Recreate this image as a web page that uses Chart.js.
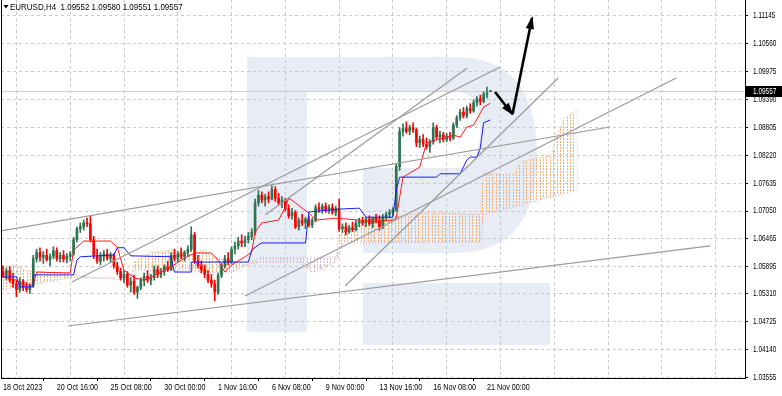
<!DOCTYPE html>
<html><head><meta charset="utf-8">
<script src="https://cdn.jsdelivr.net/npm/chart.js@4.4.1/dist/chart.umd.min.js"></script>
<style>html,body{margin:0;padding:0;background:#fff;overflow:hidden}canvas{display:block}</style>
</head><body>
<canvas id="c" width="782" height="396"></canvas>
<script>
// ---------- data (bar index 0 = 18 Oct 2023 00:00, H4 bars) ----------
const SYMBOL = 'EURUSD,H4';
const LAST_BAR = [1.09552, 1.09580, 1.09551, 1.09557];
const X_LABELS = ['18 Oct 2023','20 Oct 16:00','25 Oct 08:00','30 Oct 00:00','1 Nov 16:00','6 Nov 08:00','9 Nov 00:00','13 Nov 16:00','16 Nov 08:00','21 Nov 00:00'];
const Y_TICKS = [1.11145,1.10560,1.09975,1.09390,1.08805,1.08220,1.07635,1.07050,1.06465,1.05895,1.05310,1.04725,1.04140,1.03555];

const OPEN = [1.0578,1.0570,1.0580,1.0560,1.0552,1.0540, 1.0558,1.0545,1.0540,1.0548,1.0605,1.0618, 1.0608,1.0612,1.0603,1.0610,1.0622,1.0605, 1.0612,1.0604,1.0610,1.0615,1.0645,1.0668, 1.0672,1.0680,1.0678,1.0645,1.0612,1.0600, 1.0610,1.0615,1.0606,1.0612,1.0590,1.0578, 1.0565,1.0572,1.0550,1.0558,1.0535,1.0545, 1.0560,1.0568,1.0560,1.0565,1.0582,1.0572, 1.0578,1.0588,1.0582,1.0612,1.0606,1.0615, 1.0610,1.0618,1.0625,1.0655,1.0600,1.0590, 1.0582,1.0572,1.0560,1.0552,1.0535,1.0570, 1.0590,1.0605,1.0598,1.0625,1.0632,1.0642, 1.0638,1.0645,1.0652,1.0660,1.0722,1.0738, 1.0728,1.0735,1.0730,1.0750,1.0732,1.0722, 1.0728,1.0710,1.0695,1.0702,1.0672,1.0685, 1.0680,1.0688,1.0676,1.0685,1.0712,1.0708, 1.0715,1.0706,1.0712,1.0702,1.0710,1.0668, 1.0672,1.0662,1.0670,1.0666,1.0680,1.0684, 1.0680,1.0688,1.0678,1.0690,1.0685,1.0672, 1.0692,1.0698,1.0702,1.0708,1.0798,1.0872, 1.0878,1.0872,1.0880,1.0875,1.0848,1.0855, 1.0845,1.0840,1.0850,1.0880,1.0860,1.0865, 1.0855,1.0862,1.0858,1.0885,1.0900,1.0912, 1.0905,1.0920,1.0915,1.0932,1.0940,1.0935, 1.0950,1.09552];
const HIGH = [1.0590,1.0585,1.0588,1.0575,1.0560,1.0565, 1.0562,1.0555,1.0552,1.0612,1.0625,1.0628, 1.0620,1.0625,1.0615,1.0630,1.0628,1.0618, 1.0622,1.0616,1.0620,1.0650,1.0672,1.0680, 1.0686,1.0690,1.0695,1.0652,1.0625,1.0618, 1.0622,1.0625,1.0618,1.0616,1.0598,1.0585, 1.0580,1.0578,1.0565,1.0570,1.0548,1.0565, 1.0575,1.0580,1.0572,1.0590,1.0590,1.0585, 1.0592,1.0600,1.0618,1.0625,1.0620,1.0628, 1.0622,1.0632,1.0672,1.0660,1.0612,1.0600, 1.0592,1.0580,1.0572,1.0560,1.0575,1.0595, 1.0612,1.0618,1.0630,1.0640,1.0650,1.0655, 1.0652,1.0660,1.0668,1.0730,1.0748,1.0745, 1.0740,1.0745,1.0758,1.0756,1.0742,1.0735, 1.0732,1.0718,1.0710,1.0706,1.0690,1.0698, 1.0692,1.0695,1.0690,1.0718,1.0722,1.0720, 1.0722,1.0718,1.0720,1.0715,1.0730,1.0678, 1.0680,1.0675,1.0682,1.0685,1.0690,1.0692, 1.0692,1.0695,1.0692,1.0698,1.0695,1.0698, 1.0702,1.0708,1.0712,1.0805,1.0880,1.0888, 1.0892,1.0885,1.0890,1.0878,1.0862,1.0865, 1.0858,1.0855,1.0890,1.0885,1.0872,1.0870, 1.0868,1.0870,1.0890,1.0905,1.0918,1.0922, 1.0925,1.0930,1.0938,1.0945,1.0948,1.0955, 1.0965,1.09580];
const LOW = [1.0565,1.0560,1.0555,1.0545,1.0525,1.0535, 1.0538,1.0535,1.0532,1.0545,1.0598,1.0600, 1.0595,1.0600,1.0590,1.0605,1.0600,1.0598, 1.0598,1.0596,1.0600,1.0612,1.0640,1.0660, 1.0665,1.0672,1.0640,1.0605,1.0595,1.0592, 1.0600,1.0602,1.0598,1.0585,1.0572,1.0560, 1.0555,1.0545,1.0535,1.0530,1.0522,1.0540, 1.0548,1.0555,1.0550,1.0560,1.0565,1.0565, 1.0570,1.0578,1.0580,1.0600,1.0598,1.0605, 1.0600,1.0610,1.0620,1.0595,1.0585,1.0575, 1.0565,1.0555,1.0545,1.0517,1.0530,1.0565, 1.0585,1.0592,1.0595,1.0615,1.0625,1.0630, 1.0630,1.0638,1.0645,1.0655,1.0715,1.0722, 1.0715,1.0722,1.0728,1.0725,1.0718,1.0712, 1.0705,1.0690,1.0688,1.0668,1.0665,1.0675, 1.0668,1.0672,1.0670,1.0682,1.0702,1.0700, 1.0702,1.0700,1.0698,1.0695,1.0662,1.0660, 1.0655,1.0658,1.0662,1.0663,1.0672,1.0675, 1.0672,1.0675,1.0670,1.0680,1.0665,1.0668, 1.0685,1.0690,1.0695,1.0704,1.0790,1.0862, 1.0868,1.0865,1.0870,1.0840,1.0838,1.0840, 1.0835,1.0828,1.0845,1.0855,1.0848,1.0850, 1.0850,1.0852,1.0855,1.0880,1.0895,1.0900, 1.0900,1.0910,1.0912,1.0925,1.0928,1.0932, 1.0942,1.09551];
const CLOSE = [1.0570,1.0580,1.0560,1.0552,1.0540,1.0558, 1.0545,1.0540,1.0548,1.0605,1.0618,1.0608, 1.0612,1.0603,1.0610,1.0622,1.0605,1.0612, 1.0604,1.0610,1.0615,1.0645,1.0668,1.0672, 1.0680,1.0678,1.0645,1.0612,1.0600,1.0610, 1.0615,1.0606,1.0612,1.0590,1.0578,1.0565, 1.0572,1.0550,1.0558,1.0535,1.0545,1.0560, 1.0568,1.0560,1.0565,1.0582,1.0572,1.0578, 1.0588,1.0582,1.0612,1.0606,1.0615,1.0610, 1.0618,1.0625,1.0655,1.0600,1.0590,1.0582, 1.0572,1.0560,1.0552,1.0535,1.0570,1.0590, 1.0605,1.0598,1.0625,1.0632,1.0642,1.0638, 1.0645,1.0652,1.0660,1.0722,1.0738,1.0728, 1.0735,1.0730,1.0750,1.0732,1.0722,1.0728, 1.0710,1.0695,1.0702,1.0672,1.0685,1.0680, 1.0688,1.0676,1.0685,1.0712,1.0708,1.0715, 1.0706,1.0712,1.0702,1.0710,1.0668,1.0672, 1.0662,1.0670,1.0666,1.0680,1.0684,1.0680, 1.0688,1.0678,1.0690,1.0685,1.0672,1.0692, 1.0698,1.0702,1.0708,1.0798,1.0872,1.0878, 1.0872,1.0880,1.0875,1.0848,1.0855,1.0845, 1.0840,1.0850,1.0880,1.0860,1.0865,1.0855, 1.0862,1.0858,1.0885,1.0900,1.0912,1.0905, 1.0920,1.0915,1.0932,1.0940,1.0935,1.0950, 1.0952,1.09557];

// Ichimoku lines: [bar index, price]
const TENKAN = [[0,1.0567],[4,1.0560],[6,1.0550],[9,1.0550],[10,1.0577],[20,1.0575],[21,1.0623],[24,1.0642],[32,1.0642],[34,1.0629],[36,1.0581],[39,1.0565],[42,1.0560],[46,1.0573],[50,1.0588],[53,1.0602],[57,1.0617],[62,1.0617],[64,1.0602],[66,1.0577],[68,1.0592],[72,1.0609],[74,1.0619],[75,1.0661],[77,1.0680],[82,1.0686],[84,1.0713],[85,1.0732],[87,1.0722],[89,1.0711],[91,1.0701],[93,1.0686],[99,1.0690],[106,1.0686],[111,1.0682],[116,1.0686],[117,1.0690],[119,1.0776],[124,1.0797],[126,1.0848],[134,1.0864],[136,1.0860],[138,1.0881],[140,1.0885],[142,1.0910],[143,1.0923],[145,1.0931]];
const KIJUN = [[0,1.0567],[4,1.0567],[5,1.0546],[9,1.0546],[9,1.0571],[21,1.0571],[22,1.0602],[23,1.0609],[33,1.0613],[34,1.0628],[36,1.0628],[38,1.0611],[50,1.0609],[51,1.0577],[56,1.0577],[56,1.0598],[73,1.0598],[74,1.0623],[76,1.0634],[77,1.0638],[90,1.0638],[91,1.0703],[100,1.0709],[106,1.0711],[108,1.0692],[116,1.0692],[117,1.0749],[118,1.0776],[129,1.0776],[130,1.0783],[136,1.0783],[138,1.0812],[139,1.0818],[141,1.0818],[142,1.0837],[143,1.0890],[145,1.0896]];
const SPAN_A = [[-0.9,1.0586],[3.6,1.0592],[6.5,1.0581],[11,1.0577],[20,1.0575],[26,1.0565],[38,1.0560],[39,1.0598],[44,1.0619],[51,1.0623],[56,1.0613],[59,1.0623],[63,1.0609],[68,1.0598],[72,1.0592],[76.5,1.0598],[88,1.0598],[92,1.0577],[94,1.0581],[99,1.0598],[100,1.0651],[103,1.0672],[109,1.0686],[127,1.0703],[142,1.0697],[143,1.0785],[152,1.0781],[154,1.0808],[163,1.0822],[167,1.0900],[171,1.0917]];
const SPAN_B = [[-0.9,1.0539],[8,1.0550],[20,1.0565],[38,1.0565],[39,1.0581],[56,1.0581],[59,1.0577],[68,1.0575],[76.5,1.0607],[100,1.0609],[101,1.0638],[142,1.0640],[143,1.0697],[171,1.0749]];

// Trend lines: [barIndex1, price1, barIndex2, price2]
const TRENDLINES = [
  [-0.9,1.06631, 180.6,1.08811],
  [19.3,1.04639, 210.4,1.06317],
  [20.5,1.05561, 147.9,1.10069],
  [72.0,1.05268, 200.3,1.09839],
  [78.0,1.06966, 138.1,1.10048],
  [101.8,1.05478, 165.2,1.09839]
];
// Forecast arrows: [[from index, price],[to index, price]]
const ARROWS = [
  [[146.4,1.09545],[151.5,1.09084]],
  [[151.6,1.09084],[157.4,1.11097]]
];

// ---------- styling ----------
const FONT = "'Liberation Sans',Arial,sans-serif";
const BULL = '#2e7352', BEAR = '#ff0000';
const GRID = '#c9c9c9';

function hatch(color){
  const c=document.createElement('canvas'); c.width=27; c.height=3;
  const g=c.getContext('2d'); g.fillStyle=color;
  for(let k=0;k<8;k++){ g.fillRect(Math.round(k*3.375),0,1,2); }
  return g.createPattern(c,'repeat');
}
const HATCH_UP = hatch('rgba(244,164,96,0.85)');
const HATCH_DN = hatch('rgba(206,170,216,0.85)');

const pts = arr => arr.map(([x,y])=>({x,y}));
const candleColor = i => CLOSE[i] >= OPEN[i] ? BULL : BEAR;

const datasets = [
  {type:'line', label:'Senkou A', data:pts(SPAN_A), borderColor:'rgba(244,164,96,0.9)', borderWidth:1, borderDash:[1,2], pointRadius:0, tension:0, order:20,
   fill:{target:'+1', above:HATCH_UP, below:HATCH_DN}},
  {type:'line', label:'Senkou B', data:pts(SPAN_B), borderColor:'rgba(200,160,210,0.9)', borderWidth:1, borderDash:[1,2], pointRadius:0, tension:0, order:19},
  {type:'line', label:'Bid', data:[{x:-1,y:LAST_BAR[3]},{x:230,y:LAST_BAR[3]}], borderColor:'#cfcfcf', borderWidth:1, pointRadius:0, order:18},
  ...TRENDLINES.map((t,k)=>({type:'line', label:'Trend '+(k+1), data:[{x:t[0],y:t[1]},{x:t[2],y:t[3]}], borderColor:'#9a9a9a', borderWidth:1.2, pointRadius:0, order:3})),
  {type:'bar', label:'Wicks', data:HIGH.map((h,i)=>({x:i,y:[LOW[i],h]})), backgroundColor:HIGH.map((h,i)=>candleColor(i)), barThickness:1, grouped:false, order:8},
  {type:'bar', label:'Bodies', data:OPEN.map((o,i)=>({x:i,y:[o,CLOSE[i]]})), backgroundColor:OPEN.map((o,i)=>candleColor(i)), barThickness:2, minBarLength:1, grouped:false, order:7},
  {type:'line', label:'Tenkan-sen', data:pts(TENKAN), borderColor:'#ff1a1a', borderWidth:1, pointRadius:0, tension:0, order:5},
  {type:'line', label:'Kijun-sen', data:pts(KIJUN), borderColor:'#1a1aff', borderWidth:1, pointRadius:0, tension:0, order:4},
  ...ARROWS.map((a,k)=>({type:'line', label:'Arrow '+(k+1), data:pts(a), borderColor:'#000', borderWidth:2.6, pointRadius:0, order:1}))
];

// narrow the axis label glyphs (the terminal font is very condensed)
function squeezeLabels(scale, sx){
  if (scale._squeezed) return; scale._squeezed = true;
  const orig = scale.drawLabels.bind(scale);
  scale.drawLabels = function(area){
    const ctx = this.ctx;
    ctx.rotate = function(r){ CanvasRenderingContext2D.prototype.rotate.call(this, r); this.scale(sx, 1); };
    try { orig(area); } finally { delete ctx.rotate; }
  };
}

const overlay = {
  id:'overlay',
  afterUpdate(chart){ squeezeLabels(chart.scales.x, 0.8); squeezeLabels(chart.scales.y, 0.72); },
  beforeDraw(chart){
    const ctx=chart.ctx;
    ctx.save();
    ctx.fillStyle='#fff'; ctx.fillRect(0,0,chart.width,chart.height);
    // broker watermark
    ctx.fillStyle='#e8edf5';
    ctx.fillRect(247,57,60,275);
    ctx.beginPath();
    ctx.moveTo(307,57); ctx.lineTo(455,57);
    ctx.quadraticCurveTo(537,57,537,155);
    ctx.quadraticCurveTo(537,253,455,253);
    ctx.lineTo(363,253); ctx.lineTo(363,168); ctx.lineTo(458,168);
    ctx.quadraticCurveTo(480,168,480,130);
    ctx.quadraticCurveTo(480,92,458,92);
    ctx.lineTo(307,92); ctx.closePath(); ctx.fill();
    ctx.fillRect(363,283,187,62);
    ctx.restore();
  },
  beforeDatasetsDraw(chart){
    const x0=Math.round(chart.scales.x.getPixelForValue(0));
    const m=new DOMMatrix().translate(x0,0);
    HATCH_UP.setTransform(m); HATCH_DN.setTransform(m);
  },
  afterDatasetsDraw(chart){
    const ctx=chart.ctx, xs=chart.scales.x, ys=chart.scales.y;
    ctx.save(); ctx.fillStyle='#000';
    ARROWS.forEach(a=>{
      const x1=xs.getPixelForValue(a[0][0]), y1=ys.getPixelForValue(a[0][1]);
      const x2=xs.getPixelForValue(a[1][0]), y2=ys.getPixelForValue(a[1][1]);
      const ang=Math.atan2(y2-y1,x2-x1), L=11, W=4.2;
      ctx.beginPath();
      ctx.moveTo(x2+Math.cos(ang)*2,y2+Math.sin(ang)*2);
      ctx.lineTo(x2-Math.cos(ang)*L-Math.sin(ang)*W, y2-Math.sin(ang)*L+Math.cos(ang)*W);
      ctx.lineTo(x2-Math.cos(ang)*L+Math.sin(ang)*W, y2-Math.sin(ang)*L-Math.cos(ang)*W);
      ctx.closePath(); ctx.fill();
    });
    ctx.restore();
  },
  afterDraw(chart){
    const ctx=chart.ctx, a=chart.chartArea, ys=chart.scales.y;
    ctx.save();
    ctx.strokeStyle='#000'; ctx.lineWidth=1;
    ctx.beginPath(); ctx.moveTo(a.left+0.5,0); ctx.lineTo(a.left+0.5,a.bottom); ctx.stroke();
    // title
    ctx.fillStyle='#000';
    ctx.beginPath(); ctx.moveTo(3.5,5); ctx.lineTo(8.5,5); ctx.lineTo(6,8.5); ctx.closePath(); ctx.fill();
    ctx.font='9.5px '+FONT; ctx.textBaseline='middle'; ctx.textAlign='left';
    ctx.save(); ctx.translate(10,7.5); ctx.scale(0.84,1);
    ctx.fillText(SYMBOL+'  '+LAST_BAR.map(v=>v.toFixed(5)).join(' '), 0, 0);
    ctx.restore();
    // current price label
    const yp=Math.round(ys.getPixelForValue(LAST_BAR[3]));
    ctx.fillStyle='#000'; ctx.fillRect(a.right+1,yp-5,36,11);
    ctx.fillStyle='#fff'; ctx.font='9px '+FONT;
    ctx.save(); ctx.translate(a.right+8,yp+0.5); ctx.scale(0.72,1);
    ctx.fillText(LAST_BAR[3].toFixed(5), 0, 0);
    ctx.restore();
    ctx.restore();
  }
};

new Chart(document.getElementById('c'), {
  type:'bar',
  data:{datasets},
  options:{
    responsive:false, animation:false, devicePixelRatio:1,
    layout:{padding:{left:1,top:0,right:0,bottom:0}},
    plugins:{legend:{display:false}, tooltip:{enabled:false}},
    scales:{
      x:{type:'linear', min:-0.595, max:220.76, offset:false,
        afterBuildTicks(s){ const t=[]; for(let v=0; v<=216; v+=8) t.push({value:v}); s.ticks=t; },
        afterFit(s){ s.height=18; s.paddingLeft=0; s.paddingRight=0; },
        grid:{ color:c=>(c.tick && c.tick.value%16===8)?GRID:'rgba(0,0,0,0)', tickColor:c=>(c.tick && c.tick.value%16===0 && c.tick.value<=144)?'#000':'rgba(0,0,0,0)', tickLength:3, drawTicks:true },
        border:{display:true, color:'#000', width:1, dash:[3,3]},
        ticks:{ autoSkip:false, maxRotation:0, align:'start', padding:1, color:'#000', font:{family:FONT,size:9},
          callback:v=>(v%16===0 && v/16<X_LABELS.length)?X_LABELS[v/16]:'' }
      },
      y:{type:'linear', position:'right', min:1.035487, max:1.114742,
        afterBuildTicks(s){ s.ticks=Y_TICKS.map(v=>({value:v})); },
        afterFit(s){ s.width=37; s.paddingTop=0; s.paddingBottom=0; },
        grid:{ color:GRID, tickColor:'#000', tickLength:3 },
        border:{display:true, color:'#000', width:1, dash:[3,3]},
        ticks:{ padding:5, color:'#000', font:{family:FONT,size:9}, callback:v=>v.toFixed(5) }
      }
    }
  },
  plugins:[overlay]
});
</script>
</body></html>
